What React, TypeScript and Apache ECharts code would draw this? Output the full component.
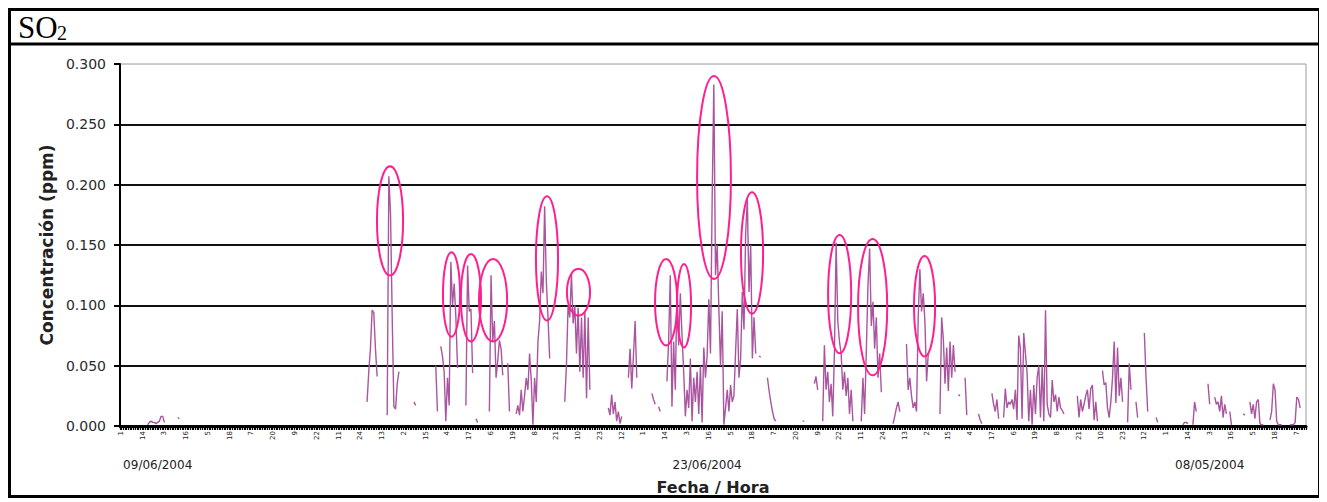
import React, { useEffect, useRef } from 'react';
import * as echarts from 'echarts';

const _ = null;

// Hour-of-day tick labels (every hourly category)
const hourLabels = ['1', '2', '3', '4', '5', '6', '7', '8', '9', '10', '11', '12', '13', '14', '15', '16', '17', '18', '19', '20', '21', '22', '23', '24'];
// Date labels and the hourly category they sit under
const dateLabels = ['09/06/2004', '23/06/2004', '08/05/2004'];
const dateLabelHours = [22, 350, 650];

// SO2 hourly concentrations (ppm), one array per day
const day00 = [_, _, _, _, _, _, _, _, _, _, _, _, _, _, _, _, 0.001, 0.003, 0.004, 0.003, 0.003, 0.002, 0.003, 0.004];
const day01 = [0.008, 0.008, 0.003, _, _, _, _, _, _, _, 0.007, 0.006, _, _, _, _, _, _, _, _, _, _, _, _];
const day02 = [_, _, _, _, _, _, _, _, _, _, _, _, _, _, _, _, _, _, _, _, _, _, _, _];
const day03 = [_, _, _, _, _, _, _, _, _, _, _, _, _, _, _, _, _, _, _, _, _, _, _, _];
const day04 = [_, _, _, _, _, _, _, _, _, _, _, _, _, _, _, _, _, _, _, _, _, _, _, _];
const day05 = [_, _, _, _, _, _, _, _, _, _, _, _, _, _, _, _, _, _, _, _, _, _, _, _];
const day06 = [_, _, _, 0.020, 0.045, 0.064, 0.096, 0.094, 0.064, 0.041, _, _, _, _, _, 0.009, 0.207, 0.175, 0.090, 0.016, 0.014, 0.035, 0.045, _];
const day07 = [_, _, _, _, _, _, _, 0.020, 0.017, _, _, _, _, _, _, _, _, _, _, _, 0.050, 0.012, _, 0.066];
const day08 = [0.058, 0.045, 0.004, 0.040, 0.017, 0.136, 0.100, 0.118, 0.090, 0.048, _, _, _, _, 0.017, 0.133, 0.095, 0.097, 0.044, _, 0.006, 0.003, _, _];
const day09 = [_, _, _, _, 0.012, 0.125, 0.070, 0.087, 0.040, 0.054, 0.071, 0.064, 0.042, _, _, 0.052, 0.012, _, _, _, 0.010, 0.017, 0.009, 0.030];
const day10 = [0.012, 0.025, 0.040, 0.030, 0.060, 0.038, 0.001, 0.040, 0.020, 0.070, 0.087, 0.128, 0.110, 0.182, 0.120, 0.090, 0.056, _, _, _, _, _, _, _];
const day11 = [_, 0.020, 0.050, 0.100, 0.090, 0.126, 0.085, 0.100, 0.060, 0.098, 0.045, 0.090, 0.040, 0.095, 0.023, 0.090, 0.030, _, _, _, _, _, _, _];
const day12 = [_, _, _, 0.015, 0.009, 0.026, 0.010, 0.020, 0.004, 0.012, 0.002, 0.008, _, _, _, 0.040, 0.064, 0.031, 0.058, 0.087, 0.040, _, _, _];
const day13 = [_, _, _, _, _, 0.027, 0.022, 0.018, _, 0.016, 0.012, _, _, _, 0.037, 0.070, 0.125, 0.016, 0.070, 0.030, 0.116, 0.067, 0.110, 0.075];
const day14 = [0.045, 0.008, 0.030, 0.015, 0.056, 0.004, 0.040, 0.020, 0.045, 0.010, 0.050, 0.003, 0.065, 0.040, 0.058, 0.105, 0.060, 0.188, 0.283, 0.125, 0.150, 0.097, 0.050, 0.095];
const day15 = [0.001, 0.015, 0.030, 0.012, 0.034, 0.020, 0.025, 0.062, 0.097, 0.040, 0.056, 0.111, 0.080, 0.160, 0.188, 0.111, 0.150, 0.056, 0.090, 0.060, _, 0.058, 0.057, _];
const day16 = [_, _, 0.040, 0.029, 0.020, 0.012, 0.006, 0.004, _, _, _, _, _, _, _, _, _, _, _, _, _, _, _, 0.004];
const day17 = [0.004, _, _, _, _, _, 0.035, 0.041, 0.030, _, _, 0.004, 0.067, 0.030, 0.045, 0.020, 0.035, 0.008, 0.062, 0.152, 0.087, 0.070, 0.060, 0.030];
const day18 = [0.045, 0.025, 0.040, 0.010, 0.030, 0.004, _, _, _, _, 0.004, 0.040, 0.010, 0.060, 0.116, 0.147, 0.083, 0.103, 0.064, 0.090, 0.040, 0.060, 0.028, _];
const day19 = [_, _, _, _, _, 0.002, 0.008, 0.015, 0.020, 0.012, _, _, _, 0.068, 0.030, 0.040, 0.025, 0.015, 0.020, 0.012, 0.090, 0.130, 0.095, 0.110];
const day20 = [0.087, 0.037, 0.060, _, _, _, _, _, _, 0.010, 0.090, 0.072, 0.035, 0.065, 0.029, 0.070, 0.040, 0.067, 0.045, _, 0.026, 0.025, _, _];
const day21 = [0.040, 0.009, _, _, _, _, _, _, 0.010, 0.005, 0.002, _, _, _, _, _, 0.027, 0.018, 0.012, 0.022, 0.006, _, _, 0.007];
const day22 = [0.031, 0.015, 0.020, 0.018, 0.022, 0.014, 0.030, 0.005, 0.075, 0.064, 0.006, 0.077, 0.060, 0.044, 0.004, 0.030, 0.001, 0.034, 0.010, 0.040, 0.050, 0.007, 0.050, 0.004];
const day23 = [0.096, 0.018, 0.010, 0.007, 0.038, 0.020, 0.026, 0.012, 0.024, 0.015, 0.013, 0.010, _, _, _, _, _, _, _, 0.025, 0.007, 0.022, 0.012, 0.018];
const day24 = [0.025, 0.030, 0.014, 0.031, 0.034, 0.005, 0.020, 0.004, _, _, 0.046, 0.034, 0.036, 0.015, 0.007, 0.020, 0.040, 0.070, 0.019, 0.065, 0.025, 0.040, 0.020, _];
const day25 = [_, 0.003, 0.052, 0.030, _, _, 0.020, 0.007, _, _, _, 0.077, 0.040, 0.012, _, _, _, _, 0.007, 0.003, _, _, _, _];
const day26 = [_, _, _, _, _, _, _, _, _, _, 0.001, 0.003, 0.003, 0.002, _, _, 0.001, 0.020, 0.012, _, _, _, _, _];
const day27 = [_, 0.035, 0.018, _, _, 0.024, 0.018, 0.020, 0.012, 0.025, 0.007, 0.018, 0.010, _, 0.012, 0.001, _, _, _, _, _, _, 0.010, 0.009];
const day28 = [_, _, 0.020, 0.010, 0.018, 0.006, 0.020, 0.022, 0.002, 0.001, 0.001, _, _, _, 0.005, 0.012, 0.035, 0.030, 0.004, 0.001, 0.001, 0.001, _, _];
const day29 = [_, _, 0.001, 0.001, 0.001, 0.003, 0.024, 0.022, 0.015, _, _, _];

const days = [day00, day01, day02, day03, day04, day05, day06, day07, day08, day09, day10, day11, day12, day13, day14, day15, day16, day17, day18, day19, day20, day21, day22, day23, day24, day25, day26, day27, day28, day29];

// Annotation ellipses drawn around the peaks (hour index, ppm, half width in hours, half height in ppm)
const ellipseHour = [160.7, 197.4, 209.0, 222.2, 254.4, 273.2, 325.5, 336.2, 354.1, 376.8, 429.1, 448.8, 479.8];
const ellipseValue = [0.170, 0.109, 0.1063, 0.1043, 0.1389, 0.1109, 0.1026, 0.0997, 0.206, 0.1434, 0.1092, 0.0985, 0.0993];
const ellipseHalfHours = [7.8, 5.1, 6.0, 8.4, 6.6, 6.9, 6.6, 4.2, 10.1, 6.6, 6.9, 8.7, 6.3];
const ellipseHalfValue = [0.0453, 0.035, 0.0363, 0.0342, 0.0515, 0.0194, 0.0359, 0.0346, 0.0841, 0.0503, 0.049, 0.0565, 0.0416];

const so2 = days.flat();
const categories = days.flatMap((d) => d.map((_v, h) => hourLabels[h]));

const W = 1314;
const H = 492;

export default function App() {
  const ref = useRef<HTMLDivElement>(null);

  useEffect(() => {
    const el = ref.current;
    if (!el) return;
    const chart = echarts.init(el, undefined, { renderer: 'svg' });

    const baseGraphic: any[] = [
      { id: 'frame', type: 'rect', z: 50, shape: { x: 1.5, y: 1.5, width: 1310, height: 487 }, style: { fill: 'none', stroke: '#000', lineWidth: 3 } },
      { id: 'divider', type: 'line', z: 50, shape: { x1: 0, y1: 36, x2: 1313, y2: 36 }, style: { stroke: '#000', lineWidth: 3 } },
      { id: 'titleSO', type: 'text', z: 50, x: 10, y: 19, style: { text: 'SO', fontSize: 31, fontFamily: '"Liberation Serif", "Times New Roman", serif', fill: '#000', verticalAlign: 'middle', align: 'left' } },
      { id: 'title2', type: 'text', z: 50, x: 49, y: 25, style: { text: '2', fontSize: 20, fontFamily: '"Liberation Serif", "Times New Roman", serif', fill: '#000', verticalAlign: 'middle', align: 'left' } },
    ];

    const option: any = {
      animation: false,
      backgroundColor: '#ffffff',
      grid: { left: 112, right: 16, top: 56, bottom: 72, show: true, borderColor: '#9a9a9a', borderWidth: 1, backgroundColor: 'transparent' },
      xAxis: [
        {
          type: 'category',
          data: categories,
          boundaryGap: true,
          axisLine: { show: true, lineStyle: { color: '#000', width: 3 } },
          axisTick: { show: true, interval: 0, length: 4, lineStyle: { color: '#000', width: 1.2 } },
          axisLabel: { interval: 12, rotate: 90, fontSize: 7, color: '#222', fontFamily: 'DejaVu Sans', margin: 5 },
          splitLine: { show: false },
          name: 'Fecha / Hora',
          nameLocation: 'middle',
          nameGap: 53,
          nameTextStyle: { fontFamily: 'DejaVu Sans', fontWeight: 'bold', fontSize: 16, color: '#222' },
        },
        {
          type: 'category',
          data: categories,
          position: 'bottom',
          boundaryGap: true,
          axisLine: { show: false },
          axisTick: { show: false },
          splitLine: { show: false },
          axisLabel: {
            interval: (i: number) => dateLabelHours.includes(i),
            formatter: (_v: string, i: number) => {
              const k = dateLabelHours.indexOf(i);
              return k >= 0 ? dateLabels[k] : '';
            },
            margin: 33,
            fontSize: 12,
            color: '#222',
            fontFamily: 'DejaVu Sans',
          },
        },
      ],
      yAxis: {
        type: 'value',
        min: 0,
        max: 0.3,
        interval: 0.05,
        name: 'Concentración (ppm)',
        nameLocation: 'middle',
        nameGap: 65,
        nameRotate: 90,
        nameTextStyle: { fontFamily: 'DejaVu Sans', fontWeight: 'bold', fontSize: 17, color: '#222' },
        axisLine: { show: true, lineStyle: { color: '#000', width: 2 } },
        axisTick: { show: true, length: 6, lineStyle: { color: '#000', width: 2 } },
        axisLabel: { formatter: (v: number) => v.toFixed(3), fontSize: 14, margin: 14, color: '#2a2a2a', fontFamily: 'DejaVu Sans' },
        splitLine: { show: true, showMaxLine: false, lineStyle: { color: '#111', width: 2 } },
      },
      series: [
        {
          type: 'line',
          name: 'SO2',
          data: so2,
          xAxisIndex: 0,
          yAxisIndex: 0,
          showSymbol: false,
          connectNulls: false,
          silent: true,
          z: 3,
          lineStyle: { color: '#a9559f', width: 1.4 },
          itemStyle: { color: '#a9559f' },
        },
      ],
      graphic: baseGraphic,
    };

    chart.setOption(option);

    const p0 = chart.convertToPixel({ seriesIndex: 0 }, [0, 0]) as number[];
    const p1 = chart.convertToPixel({ seriesIndex: 0 }, [100, 0.1]) as number[];
    const hourPx = (p1[0] - p0[0]) / 100;
    const ppmPx = (p0[1] - p1[1]) / 0.1;

    const ellipses = ellipseHour.map((h, i) => ({
      id: 'ell' + i,
      type: 'ellipse',
      z: 60,
      silent: true,
      shape: {
        cx: p0[0] + h * hourPx,
        cy: p0[1] - ellipseValue[i] * ppmPx,
        rx: ellipseHalfHours[i] * hourPx,
        ry: ellipseHalfValue[i] * ppmPx,
      },
      style: { fill: 'none', stroke: '#ff1f8e', lineWidth: 2 },
    }));

    chart.setOption({ graphic: [...baseGraphic, ...ellipses] });

    return () => {
      chart.dispose();
    };
  }, []);

  return <div ref={ref} style={{ width: W, height: H }} />;
}
